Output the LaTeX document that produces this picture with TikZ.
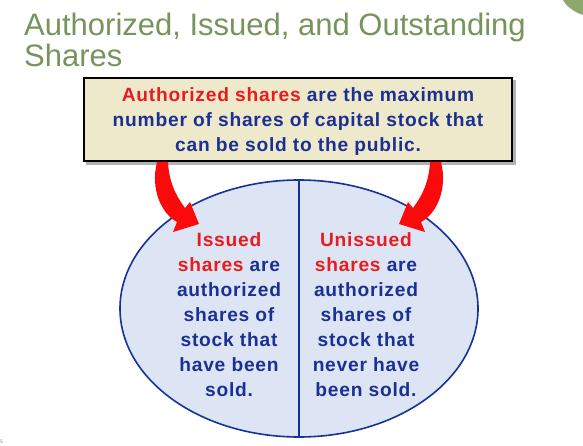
\documentclass[tikz,border=0pt]{standalone}
\usepackage{fontspec}
\setmainfont{Liberation Sans}
\newfontfamily\bodyfont[LetterSpace=4]{Liberation Sans}
\usetikzlibrary{shapes.geometric}
\definecolor{titlegreen}{RGB}{120,148,92}
\definecolor{cornergreen}{RGB}{140,168,110}
\definecolor{redtxt}{RGB}{232,28,30}
\definecolor{bluetxt}{RGB}{26,48,146}
\definecolor{boxfill}{RGB}{239,233,204}
\definecolor{ovalfill}{RGB}{221,229,245}
\definecolor{ovalline}{RGB}{22,50,150}
\definecolor{arrowred}{RGB}{250,10,10}
\begin{document}
\begin{tikzpicture}[x=1pt,y=-1pt,
  titletext/.style={anchor=base west,inner sep=0,text=titlegreen,font=\fontsize{31}{31}\selectfont},
  bodyline/.style={anchor=base,inner sep=0,text=bluetxt,font=\bodyfont\bfseries\fontsize{19.2}{25}\selectfont},
  bigarrow/.style={fill=arrowred,draw=none}]
\useasboundingbox (0,0) rectangle (583,446);
\fill[white] (0,0) rectangle (583,446);
% corner decoration
\begin{scope}
\clip (0,0) rectangle (583,446);
\fill[cornergreen] (583,0) -- (563,0) .. controls (567,7) and (574,12) .. (583,15) -- cycle;
\end{scope}
% title
\node[titletext] (t1) at (24,36) {Authorized, Issued, and Outstanding};
\node[titletext] (t2) at (24,67) {Shares};
% page number
\node[anchor=base west,inner sep=0,text=gray,font=\fontsize{5}{5}\selectfont] (pg) at (0,443) {5};
% top box
\fill[gray!60] (86,80) rectangle (516,165);
\node[draw=black,line width=2.5pt,fill=boxfill,minimum width=428,minimum height=83,inner sep=0,anchor=center] (box) at (298,119.5) {};
\node[bodyline] (b1) at (298,101.7) {\textcolor{redtxt}{Authorized shares} are the maximum};
\node[bodyline] (b2) at (298,126.7) {number of shares of capital stock that};
\node[bodyline] (b3) at (298,151.7) {can be sold to the public.};
% oval
\node[ellipse,draw=ovalline,line width=1.6pt,fill=ovalfill,minimum width=358,minimum height=257,inner sep=0] (oval) at (299,308.5) {};
\draw[ovalline,line width=1.6pt] (oval.north) -- (oval.south);
% left text
\node[bodyline] (l1) at (229,246.7) {\textcolor{redtxt}{Issued}};
\node[bodyline] (l2) at (229,271.7) {\textcolor{redtxt}{shares} are};
\node[bodyline] (l3) at (229,296.7) {authorized};
\node[bodyline] (l4) at (229,321.7) {shares of};
\node[bodyline] (l5) at (229,346.7) {stock that};
\node[bodyline] (l6) at (229,371.7) {have been};
\node[bodyline] (l7) at (229,396.7) {sold.};
% right text
\node[bodyline] (r1) at (366,246.7) {\textcolor{redtxt}{Unissued}};
\node[bodyline] (r2) at (366,271.7) {\textcolor{redtxt}{shares} are};
\node[bodyline] (r3) at (366,296.7) {authorized};
\node[bodyline] (r4) at (366,321.7) {shares of};
\node[bodyline] (r5) at (366,346.7) {stock that};
\node[bodyline] (r6) at (366,371.7) {never have};
\node[bodyline] (r7) at (366,396.7) {been sold.};
% curved arrows
\fill[bigarrow] (157,162) .. controls (150,190) and (162,214) .. (177,222)
  -- (173,232) -- (199,224) -- (190,202) -- (185,208)
  .. controls (176,196) and (169,182) .. (168,162) -- cycle;
\fill[bigarrow] (441,162) .. controls (448,190) and (436,214) .. (421,222)
  -- (425,232) -- (399,224) -- (408,202) -- (413,208)
  .. controls (422,196) and (429,182) .. (430,162) -- cycle;
\end{tikzpicture}
\end{document}
